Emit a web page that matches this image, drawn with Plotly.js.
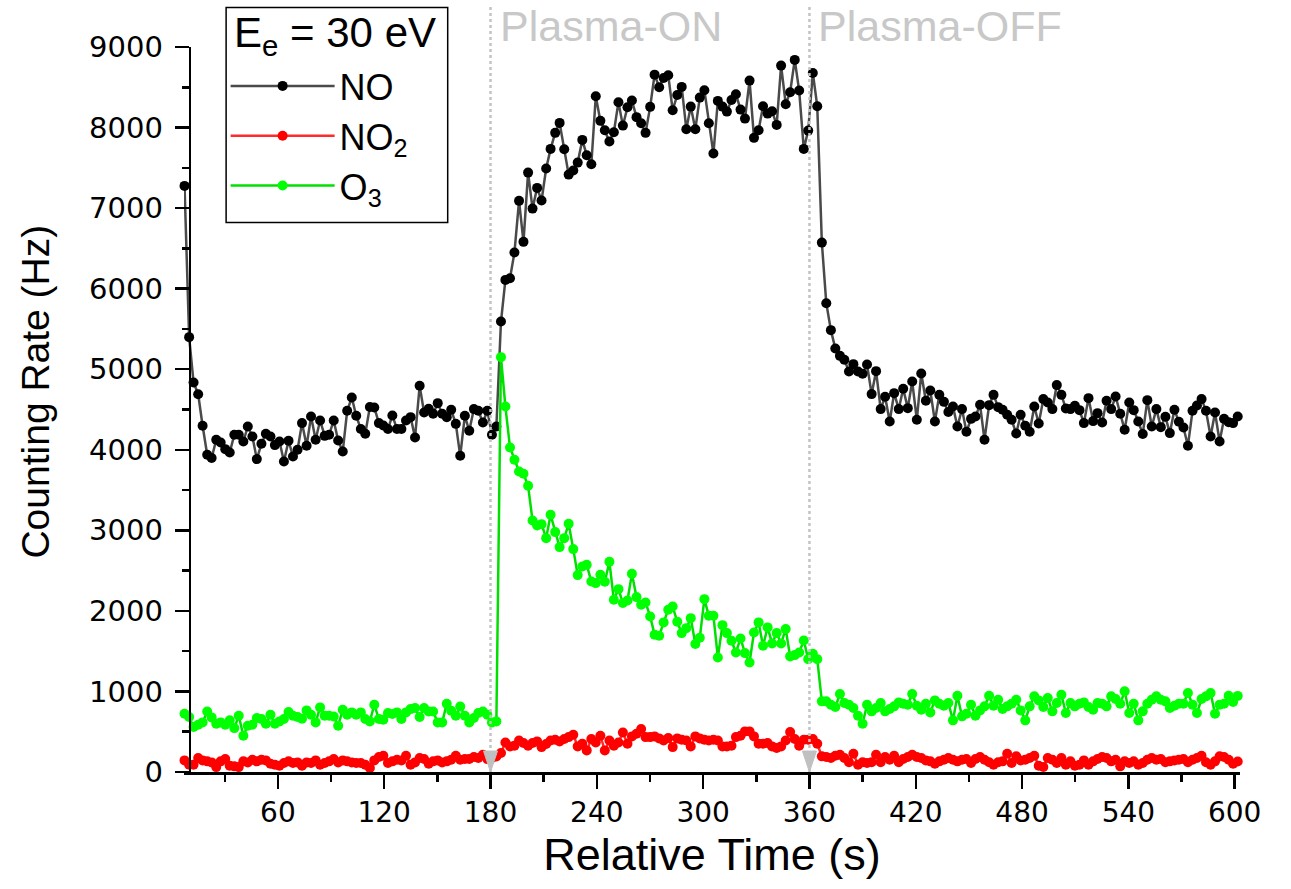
<!DOCTYPE html>
<html>
<head>
<meta charset="utf-8">
<script src="https://cdn.plot.ly/plotly-3.0.1.min.js"></script>
<style>html,body{margin:0;padding:0;background:#fff}#chart{width:1291px;height:889px}</style>
</head>
<body>
<div id="chart"></div>
<script>
// Relative time (s) of each sample
const time = [7.3,9.9,12.4,15.0,17.5,20.1,22.6,25.2,27.7,30.3,32.8,35.4,37.9,40.5,43.0,45.6,48.1,50.7,53.2,55.8,58.3,60.9,63.4,66.0,68.5,71.1,73.6,76.2,78.7,81.3,83.8,86.4,88.9,91.5,94.0,96.6,99.1,101.7,104.2,106.8,109.3,111.9,114.4,117.0,119.5,122.1,124.6,127.2,129.7,132.3,134.9,137.4,140.0,142.5,145.1,147.6,150.2,152.7,155.3,157.8,160.4,162.9,165.5,168.0,170.6,173.1,175.7,178.2,180.8,183.3,185.9,188.4,191.0,193.5,196.1,198.6,201.2,203.7,206.3,208.8,211.4,213.9,216.5,219.0,221.6,224.1,226.7,229.2,231.8,234.3,236.9,239.4,242.0,244.5,247.1,249.6,252.2,254.7,257.3,259.8,262.4,265.0,267.5,270.1,272.6,275.2,277.7,280.3,282.8,285.4,287.9,290.5,293.0,295.6,298.1,300.7,303.2,305.8,308.3,310.9,313.4,316.0,318.5,321.1,323.6,326.2,328.7,331.3,333.8,336.4,338.9,341.5,344.0,346.6,349.1,351.7,354.2,356.8,359.3,361.9,364.4,367.0,369.5,372.1,374.6,377.2,379.7,382.3,384.8,387.4,390.0,392.5,395.1,397.6,400.2,402.7,405.3,407.8,410.4,412.9,415.5,418.0,420.6,423.1,425.7,428.2,430.8,433.3,435.9,438.4,441.0,443.5,446.1,448.6,451.2,453.7,456.3,458.8,461.4,463.9,466.5,469.0,471.6,474.1,476.7,479.2,481.8,484.3,486.9,489.4,492.0,494.5,497.1,499.6,502.2,504.7,507.3,509.8,512.4,514.9,517.5,520.1,522.6,525.2,527.7,530.3,532.8,535.4,537.9,540.5,543.0,545.6,548.1,550.7,553.2,555.8,558.3,560.9,563.4,566.0,568.5,571.1,573.6,576.2,578.7,581.3,583.8,586.4,588.9,591.5,594.0,596.6,599.1,601.7];

// Counting rate (Hz) of NO
const rateNO = [7276,5398,4835,4690,4298,3938,3897,4124,4091,4008,3966,4186,4186,4103,4289,4165,3884,4074,4198,4165,4058,4103,3855,4112,3917,4000,4331,4049,4413,4124,4364,4173,4186,4364,4115,3979,4484,4649,4422,4257,4198,4530,4525,4331,4301,4257,4426,4257,4257,4364,4405,4152,4794,4463,4508,4447,4579,4447,4405,4496,4322,3925,4422,4236,4505,4484,4339,4484,4186,4289,
5592,6109,6130,6448,7090,6581,7441,6994,7251,7094,7491,7735,7934,8058,7731,7416,7466,7565,7847,7657,7545,8389,8083,7967,7826,7942,8315,8024,8253,8335,8129,8054,7934,8257,8657,8501,8616,8650,8215,8405,8505,7980,8260,7980,8372,8464,8054,7677,8331,8260,8198,8343,8414,8223,8111,8583,7872,7967,8265,8173,8203,8033,8769,8290,8439,8840,8459,7735,7962,8678,8265,6572,5820,5485,
5257,5166,5117,4972,5063,4972,4943,5059,4691,4976,4505,4658,4351,4703,4505,4757,4517,4847,4372,4947,4608,4736,4351,4682,4595,4468,4537,4289,4505,4223,4384,4413,4558,4124,4554,4682,4529,4496,4434,4372,4202,4434,4298,4223,4537,4326,4629,4587,4505,4803,4682,4512,4505,4546,4492,4331,4641,4356,4455,4339,4608,4505,4661,4447,4248,4587,4492,4351,4195,4616,4289,4505,4281,4409,4207,4496,4347,4277,4049,4484,4550,4629,4484,4165,4463,4103,4384,4343,4331,4413];

// Counting rate (Hz) of NO2
const rateNO2 = [144,90,90,173,144,132,119,61,132,161,78,70,61,132,119,152,132,152,144,103,90,78,111,132,111,119,78,119,111,144,90,111,132,161,119,144,132,119,111,111,90,49,144,186,202,111,132,152,144,202,90,119,173,161,103,132,144,119,132,152,202,152,161,161,186,173,215,
160,175,193,235,
367,318,326,392,359,326,359,380,309,347,392,400,380,409,433,462,318,351,268,409,367,450,268,392,326,367,491,351,442,475,533,433,433,442,417,392,421,309,417,400,392,318,442,417,400,392,400,392,318,318,326,433,450,504,504,442,351,351,359,318,297,318,392,496,409,326,400,400,409,351,
194,186,173,202,215,173,120,227,91,120,111,120,215,120,186,153,202,120,161,186,215,186,173,144,132,103,132,153,173,153,132,153,161,111,161,186,153,120,91,120,132,227,111,194,144,153,173,202,78,62,173,153,111,173,91,132,78,91,144,91,132,161,186,173,132,153,70,132,111,132,91,111,153,173,153,161,120,132,144,153,161,120,153,173,202,120,91,132,194,186,153,103,130];

// Counting rate (Hz) of O3
const rateO3 = [723,682,558,587,616,752,678,599,616,587,641,545,699,450,574,587,670,657,599,711,599,628,657,744,699,682,660,765,711,616,802,699,699,690,574,773,711,740,711,740,657,628,835,657,649,732,720,740,657,740,781,794,682,794,752,752,616,616,848,760,699,814,699,616,670,732,752,711,616,628,
5150,4537,4028,3876,3731,3702,3553,3123,
3060,3077,2903,3193,2978,2792,2903,3081,2767,2444,2552,2572,2365,2345,2448,2361,2609,2138,2270,2097,2130,2461,2171,2076,2105,1931,1703,1691,1857,2014,2055,1865,1724,1786,1910,1588,1666,2146,1939,1939,1422,1823,1724,1629,1484,1658,1476,1360,1732,1857,1567,1795,1596,1724,1596,1774,1435,1451,1484,1633,1401,1468,1401,
877,877,835,806,968,856,835,794,699,600,835,753,794,856,753,782,815,864,848,835,968,823,773,848,740,889,848,823,856,641,947,691,724,835,699,765,815,947,823,897,782,815,848,897,765,641,815,939,889,806,918,753,856,960,732,856,815,848,864,806,773,856,848,815,939,906,848,1001,732,848,641,753,848,897,939,897,877,794,823,848,848,980,835,732,906,939,980,724,835,848,947,870,945];

const seriesNames = ['NO', 'NO<sub>2</sub>', 'O<sub>3</sub>'];
const legendTitle = 'E<sub>e</sub> = 30 eV';
const plasmaOn = 180, plasmaOff = 360;
const eventLabels = ['Plasma-ON', 'Plasma-OFF'];
const xTitle = 'Relative Time (s)';
const yTitle = 'Counting Rate (Hz)';
const xStart = 7.0, xEnd = 603, yAxisAt = 10.2;

const FONT = 'Liberation Sans, Arial, sans-serif';
const TICKFONT = 'DejaVu Sans, sans-serif';

// plot area geometry (pixels)
const W = 1291, H = 889;
const plotLeft = 184.4, plotRight = 1240, plotTop = 47, plotBottom = 772;
const px2x = function (px) { return (px - plotLeft) / (plotRight - plotLeft); };
const px2y = function (py) { return (plotBottom - py) / (plotBottom - plotTop); };
const yAxisPos = (yAxisAt - xStart) / (xEnd - xStart);

function trace(y, name, lineColor, markerColor) {
  return {
    x: time, y: y, name: name, type: 'scatter', mode: 'lines+markers',
    line: {color: lineColor, width: 2.5},
    marker: {color: markerColor, size: 10, symbol: 'circle'},
    cliponaxis: false
  };
}

const data = [
  trace(rateNO, seriesNames[0], '#4a4a4a', '#000000'),
  trace(rateNO2, seriesNames[1], '#ff2a2a', '#ff0000'),
  trace(rateO3, seriesNames[2], '#00e000', '#00ff00')
];

const shapes = [];
[plasmaOn, plasmaOff].forEach(function (t) {
  shapes.push({type: 'line', xref: 'x', yref: 'paper', x0: t, x1: t, y0: 0, y1: px2y(5),
    line: {color: '#c4c4c4', width: 2.5, dash: 'dot'}, layer: 'above'});
  shapes.push({type: 'path', xref: 'x', yref: 'y', xsizemode: 'pixel', ysizemode: 'pixel',
    xanchor: t, yanchor: 0, path: 'M-7,21 L7,21 L0,0 Z',
    fillcolor: '#c0c0c0', line: {color: '#c0c0c0', width: 1}, layer: 'above'});
});
// legend frame
shapes.push({type: 'rect', xref: 'paper', yref: 'paper',
  x0: px2x(226.5), x1: px2x(448), y0: px2y(222.5), y1: px2y(7.5),
  fillcolor: '#ffffff', line: {color: '#000000', width: 1.5}, layer: 'above'});

const annotations = [plasmaOn, plasmaOff].map(function (t, i) {
  return {x: t, xref: 'x', y: px2y(26), yref: 'paper', xanchor: 'left', yanchor: 'middle',
    xshift: 7, text: eventLabels[i], showarrow: false,
    font: {family: FONT, size: 43, color: '#c8c8c8'}};
});
// legend heading
annotations.push({x: px2x(232), xref: 'paper', y: px2y(35), yref: 'paper', xanchor: 'left', yanchor: 'middle',
  text: legendTitle, showarrow: false, font: {family: FONT, size: 42, color: '#000000'}});
// y axis title
annotations.push({x: px2x(36), xref: 'paper', y: px2y(392), yref: 'paper', xanchor: 'center', yanchor: 'middle',
  textangle: -90, text: yTitle, showarrow: false, font: {family: FONT, size: 39, color: '#000000'}});

const layout = {
  width: W, height: H,
  margin: {l: plotLeft, r: W - plotRight, t: plotTop, b: H - plotBottom},
  paper_bgcolor: '#ffffff', plot_bgcolor: '#ffffff',
  showlegend: true,
  legend: {
    x: px2x(226), y: px2y(56), xanchor: 'left', yanchor: 'top',
    borderwidth: 0, bgcolor: 'rgba(0,0,0,0)',
    font: {family: FONT, size: 36, color: '#000000'},
    itemwidth: 104, tracegroupgap: 0
  },
  xaxis: {
    range: [xStart, xEnd], tick0: 0, dtick: 60, ticks: 'outside', ticklen: 14, tickwidth: 2.5,
    tickcolor: '#000', showline: true, linecolor: '#000', linewidth: 2.5, zeroline: false,
    showgrid: false, tickfont: {family: TICKFONT, size: 28, color: '#000'},
    minor: {dtick: 30, ticks: 'outside', ticklen: 7, tickwidth: 2.5, tickcolor: '#000', showgrid: false},
    title: {text: xTitle, font: {family: FONT, size: 45, color: '#000'}, standoff: 8}
  },
  yaxis: {
    range: [0, 9000], tick0: 0, dtick: 1000, ticks: 'outside', ticklen: 14, tickwidth: 2.5,
    anchor: 'free', position: yAxisPos,
    tickcolor: '#000', showline: true, linecolor: '#000', linewidth: 2.5, zeroline: false,
    showgrid: false, tickfont: {family: TICKFONT, size: 29, color: '#000'},
    ticklabelstandoff: 6,
    minor: {dtick: 500, ticks: 'outside', ticklen: 7, tickwidth: 2.5, tickcolor: '#000', showgrid: false}
  },
  shapes: shapes,
  annotations: annotations
};

Plotly.newPlot('chart', data, layout, {displayModeBar: false, staticPlot: true});
</script>
</body>
</html>
